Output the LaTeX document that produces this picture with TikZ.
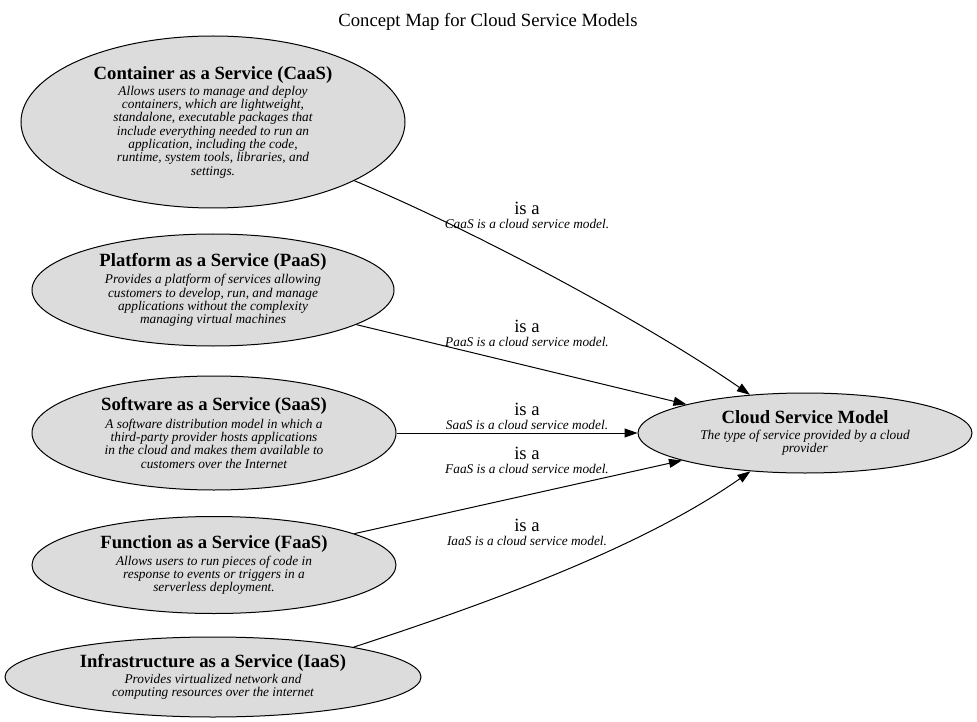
\documentclass[tikz,border=0pt]{standalone}
\usepackage{fontspec}
\setmainfont{Liberation Serif}
\usetikzlibrary{shapes.geometric,arrows.meta}
\definecolor{gainsboro}{RGB}{220,220,220}
\newcommand\cmhead{\fontsize{18.67}{18.67}\selectfont\upshape\bfseries}
\newcommand\cmdesc{\fontsize{13.33}{13.33}\selectfont\itshape}

\begin{document}
\begin{tikzpicture}[x=1pt,y=1pt,
    model/.style={ellipse,draw,line width=1pt,fill=gainsboro,inner sep=0pt,align=center,font=\cmdesc},
    isa/.style={line width=1pt,-{Triangle[length=13pt,width=9pt]}},
    relabel/.style={align=center,inner sep=0pt,font=\fontsize{13.33}{14}\selectfont}]
    \useasboundingbox (0,0) rectangle (977,-722);
    \node (title) at (488,-22) {\fontsize{18.67}{20}\selectfont Concept Map for Cloud Service Models};
    % the five service models
    \node[model,minimum width=384pt,minimum height=172pt] (caas) at (213,-122)
        {{\cmhead Container as a Service (CaaS)}\\[2.67pt]
         Allows users to manage and deploy\\ containers, which are lightweight,\\
         standalone, executable packages that\\ include everything needed to run an\\
         application, including the code,\\ runtime, system tools, libraries, and\\ settings.};
    \node[model,minimum width=362pt,minimum height=112pt] (paas) at (213,-290)
        {{\cmhead Platform as a Service (PaaS)}\\[2.67pt]
         Provides a platform of services allowing\\ customers to develop, run, and manage\\
         applications without the complexity\\ managing virtual machines};
    \node[model,minimum width=364pt,minimum height=114pt] (saas) at (214,-433)
        {{\cmhead Software as a Service (SaaS)}\\[2.67pt]
         A software distribution model in which a\\ third-party provider hosts applications\\
         in the cloud and makes them available to\\ customers over the Internet};
    \node[model,minimum width=364pt,minimum height=97pt] (faas) at (214,-565)
        {{\cmhead Function as a Service (FaaS)}\\[2.67pt]
         Allows users to run pieces of code in\\ response to events or triggers in a\\
         serverless deployment.};
    \node[model,minimum width=416pt,minimum height=80pt] (iaas) at (213,-677)
        {{\cmhead Infrastructure as a Service (IaaS)}\\[2.67pt]
         Provides virtualized network and\\ computing resources over the internet};
    % the concept they all are
    \node[model,minimum width=334pt,minimum height=80pt] (csm) at (805,-433)
        {{\cmhead Cloud Service Model}\\[2.67pt]
         The type of service provided by a cloud\\ provider};
    % is-a links
    \draw[isa] (caas) .. controls (473,-230) and (648,-324) .. (csm);
    \draw[isa] (paas) -- (csm);
    \draw[isa] (saas) -- (csm);
    \draw[isa] (faas) -- (csm);
    \draw[isa] (iaas.12) .. controls (495,-601) and (644,-546) .. (csm);
    \node[relabel] (lcaas) at (527,-215) {{\fontsize{18.67}{20}\selectfont is a}\\ \textit{CaaS is a cloud service model.}};
    \node[relabel] (lpaas) at (527,-333) {{\fontsize{18.67}{20}\selectfont is a}\\ \textit{PaaS is a cloud service model.}};
    \node[relabel] (lsaas) at (527,-416) {{\fontsize{18.67}{20}\selectfont is a}\\ \textit{SaaS is a cloud service model.}};
    \node[relabel] (lfaas) at (527,-460) {{\fontsize{18.67}{20}\selectfont is a}\\ \textit{FaaS is a cloud service model.}};
    \node[relabel] (liaas) at (527,-532) {{\fontsize{18.67}{20}\selectfont is a}\\ \textit{IaaS is a cloud service model.}};
\end{tikzpicture}
\end{document}
